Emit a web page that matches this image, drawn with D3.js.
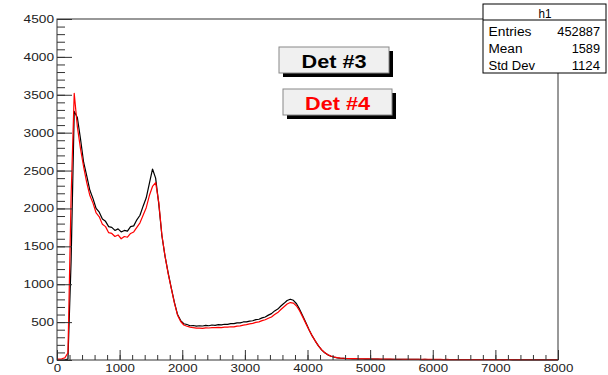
<!DOCTYPE html>
<html><head><meta charset="utf-8">
<script src="https://cdn.jsdelivr.net/npm/d3@7"></script>
<style>body{margin:0;background:#fff}svg{display:block}text{font-family:"Liberation Sans",Arial,sans-serif}</style>
</head><body><svg id="c" width="608" height="375"></svg>
<script>
// histogram bins: 50 channels wide, 0..8000
const binWidth = 50;
const det3 = [
 0,0,2,12,1300,3280,3200,2920,2610,2430,
 2240,2130,2000,1950,1860,1830,1760,1750,1710,1730,
 1690,1710,1700,1760,1770,1850,1910,2030,2140,2330,
 2520,2400,2060,1640,1370,1150,950,760,600,520,
 478,468,452,455,446,452,449,458,452,462,
 458,466,463,472,470,480,481,490,489,502,
 503,514,518,532,538,556,568,592,612,648,
 672,712,748,786,802,788,742,668,580,490,
 400,318,250,186,134,96,68,49,37,29,
 23,21,18,17,15,16,14,13,12,13,
 12,11,11,10,10,9,10,9,8,9,
 8,8,7,8,7,7,6,7,6,6,
 6,5,6,5,5,5,4,5,4,4,
 4,4,3,4,3,3,4,3,3,3,
 3,3,2,3,3,2,3,2,2,3,
 2,2,2,2,2,2,1,2,2,1];
const det4 = [
 12,16,28,95,2150,3520,3080,2790,2550,2340,
 2170,2070,1940,1890,1790,1760,1680,1670,1630,1650,
 1600,1630,1620,1670,1690,1750,1810,1910,2010,2170,
 2290,2340,2080,1650,1370,1140,945,750,592,508,
 462,446,433,426,421,420,418,423,422,426,
 426,430,428,434,433,439,438,446,450,461,
 466,477,484,497,503,519,531,550,568,600,
 626,666,703,738,758,750,712,648,566,480,
 396,318,249,186,136,98,70,51,39,31,
 26,23,20,19,17,17,16,15,14,14,
 13,13,12,12,11,11,11,10,10,10,
 9,9,9,9,8,8,8,8,7,8,
 7,7,7,6,7,6,6,6,6,6,
 5,6,5,5,5,5,5,4,5,4,
 4,4,4,4,4,4,3,4,3,3,
 3,3,3,3,3,3,3,3,3,3];
const xTicks = [0,1000,2000,3000,4000,5000,6000,7000,8000];
const yTicks = [0,500,1000,1500,2000,2500,3000,3500,4000,4500];
const legendLabels = ["Det #3","Det #4"];
const statsTitle = "h1";
const statsNames = ["Entries","Mean","Std Dev"];
const statsValues = ["452887","1589","1124"];

const svg = d3.select("#c");
const L=57, R=558, T=19, B=360;
const x = d3.scaleLinear().domain([0,8000]).range([L,R]);
const y = d3.scaleLinear().domain([0,4500]).range([B,T]);

function stretch(sel, per){
  sel.each(function(){
    const t=d3.select(this); const s=t.text();
    t.attr("textLength", per*s.length).attr("lengthAdjust","spacingAndGlyphs");
  });
}

// histograms (drawn through bin centres; bins are sub-pixel-ish at this scale)
const line = d3.line().x(d=>x(d[0])).y(d=>y(d[1]));
function pts(arr){
  const p=[[0,arr[0]]];
  arr.forEach((v,i)=>p.push([(i+0.5)*binWidth,v]));
  p.push([arr.length*binWidth, arr[arr.length-1]]);
  return p;
}
svg.append("path").attr("d",line(pts(det3))).attr("fill","none").attr("stroke","#000").attr("stroke-width",1.2).attr("stroke-linejoin","round");
svg.append("path").attr("d",line(pts(det4))).attr("fill","none").attr("stroke","#ff0000").attr("stroke-width",1.2).attr("stroke-linejoin","round");

// frame
svg.append("rect").attr("x",L).attr("y",T).attr("width",R-L).attr("height",B-T).attr("fill","none").attr("stroke","#333").attr("stroke-width",1);

// y axis
const yMinor = d3.range(0,4501,100);
svg.append("g").attr("transform",`translate(${L},0)`)
  .call(d3.axisLeft(y).tickValues(yMinor).tickSize(-8).tickFormat(""))
  .call(g=>g.select(".domain").remove()).selectAll("line").attr("stroke","#333");
const ya = svg.append("g").attr("transform",`translate(${L},0)`)
  .call(d3.axisLeft(y).tickValues(yTicks).tickSize(-15).tickPadding(3).tickFormat(d3.format("d")));
ya.select(".domain").remove();
ya.selectAll("line").attr("stroke","#333");
ya.selectAll("text").attr("font-size","11px").attr("fill","#222").style("font-family","Liberation Sans, Arial");
stretch(ya.selectAll("text"),7.6);

// x axis
const xMinor = d3.range(0,8001,200);
svg.append("g").attr("transform",`translate(0,${B})`)
  .call(d3.axisBottom(x).tickValues(xMinor).tickSize(-5).tickFormat(""))
  .call(g=>g.select(".domain").remove()).selectAll("line").attr("stroke","#333");
const xa = svg.append("g").attr("transform",`translate(0,${B})`)
  .call(d3.axisBottom(x).tickValues(xTicks).tickSize(-10).tickPadding(4).tickFormat(d3.format("d")));
xa.select(".domain").remove();
xa.selectAll("line").attr("stroke","#333");
xa.selectAll("text").attr("font-size","11px").attr("fill","#222").style("font-family","Liberation Sans, Arial");
stretch(xa.selectAll("text"),7.4);

// stats box
const sb = svg.append("g");
sb.append("rect").attr("x",483).attr("y",4).attr("width",123).attr("height",69).attr("fill","#fff").attr("stroke","#000");
sb.append("line").attr("x1",483).attr("x2",606).attr("y1",20).attr("y2",20).attr("stroke","#000");
sb.append("text").attr("x",545).attr("y",17.5).attr("text-anchor","middle").attr("font-size","12px").text(statsTitle)
  .attr("textLength",13).attr("lengthAdjust","spacingAndGlyphs");
const rowsY=[35.5,53,70];
const nameW=[43,34,46.5], valW=[42.7,28.3,28.3];
statsNames.forEach((n,i)=>{
  sb.append("text").attr("x",488.5).attr("y",rowsY[i]).attr("font-size","12px").text(n)
    .attr("textLength",nameW[i]).attr("lengthAdjust","spacingAndGlyphs");
  sb.append("text").attr("x",600).attr("y",rowsY[i]).attr("text-anchor","end").attr("font-size","12px").text(statsValues[i])
    .attr("textLength",valW[i]).attr("lengthAdjust","spacingAndGlyphs");
});

// legend boxes
const boxes=[{x:279,y:47,w:110,h:26,c:"#000"},{x:283,y:89,w:109,h:26,c:"#ff0000"}];
boxes.forEach((b,i)=>{
  svg.append("rect").attr("x",b.x+4).attr("y",b.y+4).attr("width",b.w).attr("height",b.h).attr("fill","#000");
  svg.append("rect").attr("x",b.x).attr("y",b.y).attr("width",b.w).attr("height",b.h).attr("fill","#f0f0f0").attr("stroke","#888");
  svg.append("text").attr("x",b.x+b.w/2).attr("y",b.y+21.3).attr("text-anchor","middle")
    .attr("font-size","18.5px").attr("font-weight","bold").attr("fill",b.c).text(legendLabels[i])
    .attr("textLength",65).attr("lengthAdjust","spacingAndGlyphs");
});
</script></body></html>
